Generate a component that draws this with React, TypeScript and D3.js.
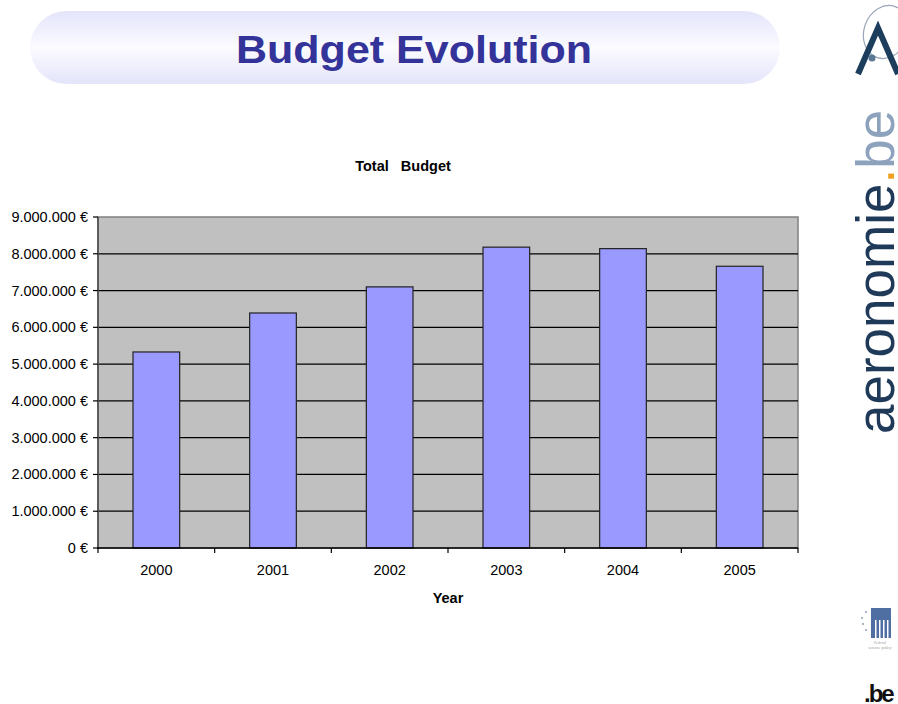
import React from "react";
import * as d3 from "d3";

const years = ["2000", "2001", "2002", "2003", "2004", "2005"];
const budget = [5330000, 6390000, 7100000, 8180000, 8140000, 7660000];
const yTicks = [0, 1000000, 2000000, 3000000, 4000000, 5000000, 6000000, 7000000, 8000000, 9000000];

const W = 898, H = 704;
const plot = { left: 98, right: 798, top: 217, bottom: 548 };

const fmt = (v: number) => {
  const s = d3.format(",")(v).replace(/,/g, ".");
  return s + " €";
};

export default function App() {
  const x = d3.scaleBand<string>().domain(years).range([plot.left, plot.right]).paddingInner(0.6).paddingOuter(0.3);
  const xb = d3.scaleBand<string>().domain(years).range([plot.left, plot.right]);
  const y = d3.scaleLinear().domain([0, 9000000]).range([plot.bottom, plot.top]);
  const font = "Arial, 'Liberation Sans', sans-serif";
  return (
    <svg width={W} height={H} style={{ position: "absolute", left: 0, top: 0, background: "#fff" }} fontFamily={font}>
      <defs>
        <linearGradient id="pill" x1="0" y1="0" x2="0" y2="1">
          <stop offset="0" stopColor="#e4e4fb" />
          <stop offset="0.5" stopColor="#fbfbff" />
          <stop offset="1" stopColor="#e4e4fb" />
        </linearGradient>
      </defs>
      <rect x={30} y={11} width={750} height={73} rx={36.5} fill="url(#pill)" />
      <text x={236} y={63} fontSize={38} fontWeight="bold" fill="#333399" textLength={356} lengthAdjust="spacingAndGlyphs">Budget Evolution</text>

      {/* logos */}
      <g>
        <ellipse cx={886} cy={32} rx={22} ry={27} fill="none" stroke="#9aa7b8" strokeWidth={1.2} transform="rotate(20 886 32)" />
        <path d="M858,74 L878,28 L898,74" fill="none" stroke="#1d3d5c" strokeWidth={6} />
        <circle cx={872} cy={58} r={3.5} fill="#5a7894" />
        <text transform="translate(894,434) rotate(-90)" fontSize={53} fill="#1f3a58">
          aeronomie<tspan fill="#f0a020">.</tspan><tspan fill="#8da2bd">be</tspan>
        </text>
        <rect x={871} y={608} width={20} height={30} fill="#4f6fa3" />
        {[875, 879, 883, 887].map((xx) => (
          <rect key={xx} x={xx} y={620} width={1.5} height={18} fill="#fff" />
        ))}
        {[[866, 612], [862, 618], [863, 624], [866, 630]].map(([cx, cy], i) => (
          <circle key={i} cx={cx} cy={cy} r={0.9} fill="#8090a8" />
        ))}
        <text x={880} y={644} textAnchor="middle" fontSize={4} fill="#999" fontFamily="serif">Federal</text>
        <text x={880} y={649} textAnchor="middle" fontSize={4} fill="#999" fontFamily="serif">science policy</text>
        <text x={864} y={702} fontSize={24} fontWeight="bold" fill="#111" letterSpacing={-2}>.be</text>
      </g>

      <text x={403} y={171} textAnchor="middle" fontSize={14.5} fontWeight="bold" fill="#000" style={{ whiteSpace: "pre" }}>{"Total   Budget"}</text>

      <rect x={plot.left} y={plot.top} width={plot.right - plot.left} height={plot.bottom - plot.top} fill="#c0c0c0" stroke="#808080" strokeWidth={1.5} />
      {yTicks.slice(1, -1).map((t) => (
        <line key={t} x1={plot.left} x2={plot.right} y1={y(t)} y2={y(t)} stroke="#000" strokeWidth={1.2} />
      ))}
      {budget.map((v, i) => (
        <rect key={years[i]} x={x(years[i])} y={y(v)} width={x.bandwidth()} height={y(0) - y(v)} fill="#9999ff" stroke="#222" strokeWidth={1.2} />
      ))}
      <line x1={plot.left} x2={plot.left} y1={plot.top} y2={plot.bottom} stroke="#555" strokeWidth={1.8} />
      <line x1={plot.left - 1} x2={plot.right} y1={plot.bottom} y2={plot.bottom} stroke="#000" strokeWidth={1.5} />
      {yTicks.map((t) => (
        <g key={t}>
          <line x1={plot.left - 5} x2={plot.left} y1={y(t)} y2={y(t)} stroke="#000" strokeWidth={1.2} />
          <text x={88} y={y(t) + 5} textAnchor="end" fontSize={14.5} fill="#000">{fmt(t)}</text>
        </g>
      ))}
      {years.map((yr) => (
        <line key={yr} x1={xb(yr)} x2={xb(yr)} y1={plot.bottom} y2={plot.bottom + 5} stroke="#000" strokeWidth={1.2} />
      ))}
      <line x1={plot.right} x2={plot.right} y1={plot.bottom} y2={plot.bottom + 5} stroke="#000" strokeWidth={1.2} />
      {years.map((yr) => (
        <text key={yr} x={(xb(yr) as number) + xb.bandwidth() / 2} y={575} textAnchor="middle" fontSize={14.5} fill="#000">{yr}</text>
      ))}
      <text x={448} y={603} textAnchor="middle" fontSize={14.5} fontWeight="bold" fill="#000">Year</text>
    </svg>
  );
}
